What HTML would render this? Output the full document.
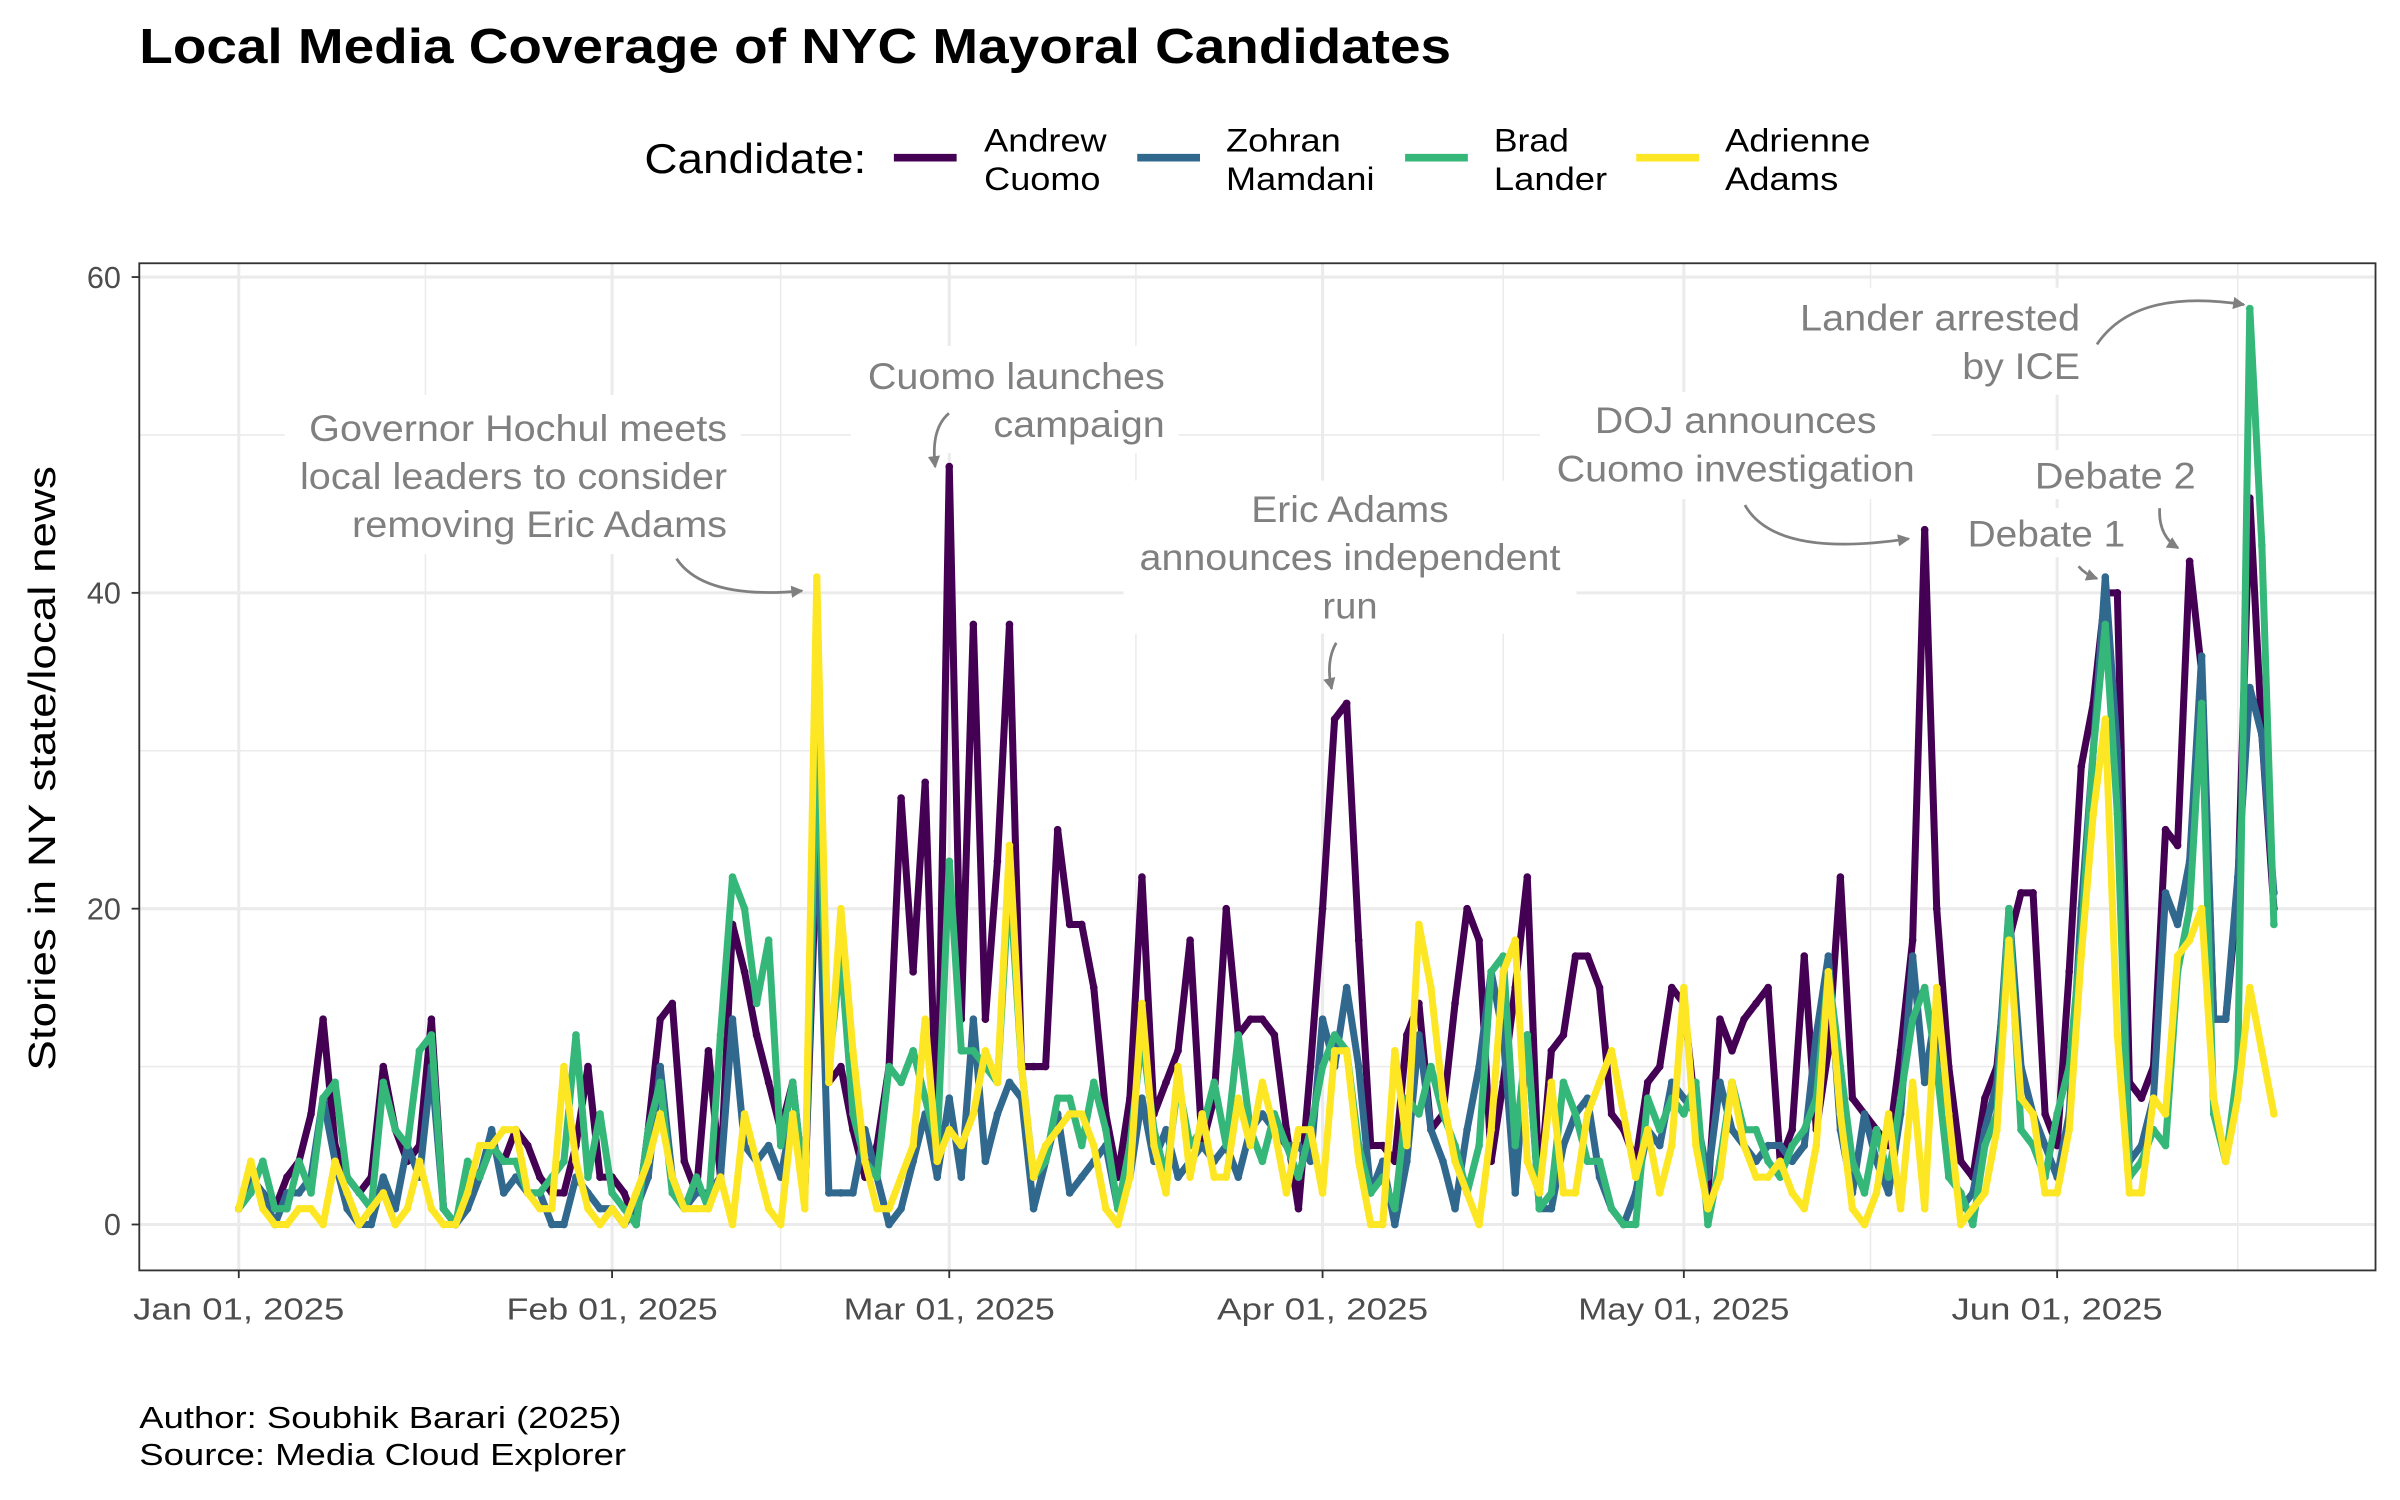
<!DOCTYPE html>
<html><head><meta charset="utf-8"><style>
html,body{margin:0;padding:0;background:#fff;}
svg{display:block;}
text{font-family:"Liberation Sans",Arial,sans-serif;}
</style></head><body>
<svg id="chart" width="2400" height="1500" viewBox="0 0 1568 980" xmlns="http://www.w3.org/2000/svg">
<rect x="0" y="0" width="1568" height="980" fill="#fff"/>
<text x="91" y="41" font-size="32" font-weight="bold" fill="#000" textLength="857" lengthAdjust="spacingAndGlyphs">Local Media Coverage of NYC Mayoral Candidates</text>
<g>
<text x="421" y="113" font-size="27" fill="#000" textLength="145" lengthAdjust="spacingAndGlyphs">Candidate:</text>
<g><line x1="584" y1="103" x2="625" y2="103" stroke="#440154" stroke-width="5"/><text x="643" y="99" font-size="21" textLength="80" lengthAdjust="spacingAndGlyphs">Andrew</text><text x="643" y="124" font-size="21" textLength="76" lengthAdjust="spacingAndGlyphs">Cuomo</text></g>
<g><line x1="743" y1="103" x2="784" y2="103" stroke="#31688e" stroke-width="5"/><text x="801" y="99" font-size="21" textLength="75" lengthAdjust="spacingAndGlyphs">Zohran</text><text x="801" y="124" font-size="21" textLength="97" lengthAdjust="spacingAndGlyphs">Mamdani</text></g>
<g><line x1="918" y1="103" x2="959" y2="103" stroke="#35b779" stroke-width="5"/><text x="976" y="99" font-size="21" textLength="49" lengthAdjust="spacingAndGlyphs">Brad</text><text x="976" y="124" font-size="21" textLength="74" lengthAdjust="spacingAndGlyphs">Lander</text></g>
<g><line x1="1069" y1="103" x2="1110" y2="103" stroke="#fde725" stroke-width="5"/><text x="1127" y="99" font-size="21" textLength="95" lengthAdjust="spacingAndGlyphs">Adrienne</text><text x="1127" y="124" font-size="21" textLength="74" lengthAdjust="spacingAndGlyphs">Adams</text></g>
</g>
<g id="grid"></g>
<g id="annot"></g>
<g id="series"></g>
<rect x="91" y="172" width="1461" height="658" fill="none" stroke="#333" stroke-width="1.2"/>
<g id="axes"></g>
<text transform="translate(36,502) rotate(-90)" text-anchor="middle" font-size="25" fill="#000" textLength="395" lengthAdjust="spacingAndGlyphs">Stories in NY state/local news</text>
<text x="91" y="933" font-size="20" fill="#000" textLength="315" lengthAdjust="spacingAndGlyphs">Author: Soubhik Barari (2025)</text>
<text x="91" y="957" font-size="20" fill="#000" textLength="318" lengthAdjust="spacingAndGlyphs">Source: Media Cloud Explorer</text>
</svg>
<script>
const cuomo = [1,3,2,1,3,4,7,13,5,3,2,3,10,6,4,5,13,1,0,2,3,5,4,6,5,3,2,2,5,10,3,
3,2,0,6,13,14,4,2,11,3,19,16,12,9,6,9,2,24,9,10,6,3,5,10,27,16,28,5,
48,13,38,13,23,38,10,10,10,25,19,19,15,7,3,8,22,7,9,11,18,5,8,20,12,13,13,12,6,1,10,
20,32,33,18,5,5,4,12,14,6,7,14,20,18,4,9,15,22,2,11,12,17,17,15,7,6,4,9,10,15,
14,7,2,13,11,13,14,15,4,6,17,6,11,22,8,7,6,5,11,18,44,20,10,4,3,8,10,18,21,21,7,
5,16,29,33,40,40,9,8,10,25,24,42,35,13,13,21,46,31,20];
const mamdani = [1,3,2,0,2,2,3,8,4,1,0,0,3,1,5,3,10,1,0,1,3,6,2,3,2,2,0,0,3,2,1,
1,0,1,3,10,3,1,2,2,3,13,5,4,5,3,7,2,27,2,2,2,6,3,0,1,4,7,3,
8,3,13,4,7,9,8,1,4,7,2,3,4,5,1,3,8,4,6,3,4,5,4,5,3,6,7,6,5,5,4,
13,10,15,10,2,4,0,4,12,6,4,1,6,10,16,12,2,12,1,1,5,7,8,3,1,0,2,6,5,9,
8,7,3,9,6,5,4,5,5,4,5,12,17,6,2,7,4,2,7,17,9,14,5,1,2,6,9,20,10,7,5,
3,7,20,30,41,30,4,5,8,21,19,23,36,13,13,22,34,31,21];
const lander = [1,2,4,1,1,4,2,8,9,3,2,1,9,6,5,11,12,1,0,4,3,5,4,4,2,2,3,4,12,3,7,
2,1,0,6,9,2,1,3,1,12,22,20,14,18,5,9,2,31,10,17,7,4,3,10,9,11,8,5,
23,11,11,10,9,22,10,3,4,8,8,5,9,6,1,5,12,6,3,9,5,6,9,5,12,6,4,7,5,3,6,
10,12,11,5,2,3,1,8,7,10,7,5,2,5,16,17,5,12,1,2,9,7,4,4,1,0,0,8,6,8,
7,9,0,4,9,6,6,4,3,5,6,8,16,10,4,2,6,3,8,13,15,10,3,2,0,5,7,20,6,5,3,
7,10,18,30,38,26,3,4,6,5,16,20,33,7,4,10,58,43,19];
const adams = [1,4,1,0,0,1,1,0,4,2,0,1,2,0,1,4,1,0,0,2,5,5,6,6,2,1,1,10,4,1,0,
1,0,2,4,7,3,1,1,1,3,0,7,4,1,0,7,1,41,9,20,11,4,1,1,3,5,13,4,
6,5,7,11,9,24,10,3,5,6,7,7,5,1,0,3,14,5,2,10,3,7,3,3,8,5,9,6,2,6,6,
2,11,11,4,0,0,11,5,19,15,8,4,2,0,6,16,18,4,2,9,2,2,7,9,11,7,3,6,2,5,
15,5,1,3,9,5,3,3,4,2,1,5,16,7,1,0,2,7,1,9,1,15,7,0,1,2,6,18,8,7,2,
2,6,17,26,32,12,2,2,8,7,17,18,20,8,4,8,15,11,7];
const seriesNames = ["cuomo","mamdani","lander","adams"];
const seriesColors = ["#440154","#31688e","#35b779","#fde725"];
const yTicks = [0,20,40,60];
const yMinor = [10,30,50];
const xTickDays = [0,31,59,90,120,151];
const xTickLabels = ["Jan 01, 2025","Feb 01, 2025","Mar 01, 2025","Apr 01, 2025","May 01, 2025","Jun 01, 2025"];

const NS="http://www.w3.org/2000/svg";
const X0=156, DX=(1344-156)/151;
function xs(d){return X0+DX*d;}
function ys(v){return 800-v*(800-181)/60;}
function mk(tag,attrs,parent){const e=document.createElementNS(NS,tag);for(const k in attrs)e.setAttribute(k,attrs[k]);parent.appendChild(e);return e;}

const grid=document.getElementById('grid');
yMinor.forEach(v=>{const l=mk('line',{x1:91,x2:1552,y1:ys(v),y2:ys(v),stroke:'#ebebeb','stroke-width':1},grid);

});
const minorDays=[];
for(let i=0;i<xTickDays.length;i++){const nxt=i+1<xTickDays.length?xTickDays[i+1]:181;minorDays.push((xTickDays[i]+nxt)/2);}
minorDays.forEach(d=>{const l=mk('line',{x1:xs(d),x2:xs(d),y1:172,y2:830,stroke:'#ebebeb','stroke-width':1},grid);

});
yTicks.forEach(v=>{const l=mk('line',{x1:91,x2:1552,y1:ys(v),y2:ys(v),stroke:'#ebebeb','stroke-width':2},grid);

});
xTickDays.forEach(d=>{const l=mk('line',{x1:xs(d),x2:xs(d),y1:172,y2:830,stroke:'#ebebeb','stroke-width':2},grid);

});

const axes=document.getElementById('axes');
yTicks.forEach(v=>{
 const t=mk('line',{x1:86,x2:91,y1:ys(v),y2:ys(v),stroke:'#333','stroke-width':1.2},axes);
 
 
 const tx=mk('text',{x:79,y:ys(v)+7,'text-anchor':'end','font-size':20,fill:'#4d4d4d'},axes);
 tx.textContent=v;
 
 
});
xTickDays.forEach((d,i)=>{
 const t=mk('line',{x1:xs(d),x2:xs(d),y1:830,y2:835,stroke:'#333','stroke-width':1.2},axes);
 
 
 const tx=mk('text',{x:xs(d),y:862,'text-anchor':'middle','font-size':20,fill:'#4d4d4d',textLength:138,lengthAdjust:'spacingAndGlyphs'},axes);
 tx.textContent=xTickLabels[i];
 
 
});

// annotations
const an=document.getElementById('annot');
function label(lines,widths,x,y0,anchor,name,box){
 const g=mk('g',{},an);
 
 
 if(box)mk('rect',{x:box[0],y:box[1],width:box[2],height:box[3],fill:'#fff'},g);
 lines.forEach((s,i)=>{const t=mk('text',{x:x,y:y0+i*31.5,'text-anchor':anchor,'font-size':24,fill:'#808080',textLength:widths[i],lengthAdjust:'spacingAndGlyphs'},g);t.textContent=s;});
}
label(["Governor Hochul meets","local leaders to consider","removing Eric Adams"],[273,279,245],475,288,'end','annotation-hochul',[186,258,298,104]);
label(["Cuomo launches","campaign"],[194,112],761,254,'end','annotation-cuomo-launch',[556,226,214,70]);
label(["Eric Adams","announces independent","run"],[129,275,36],882,341,'middle','annotation-adams-independent',[734,314,296,100]);
label(["DOJ announces","Cuomo investigation"],[184,234],1134,283,'middle','annotation-doj',[1006,256,256,70]);
label(["Lander arrested","by ICE"],[183,77],1359,216,'end','annotation-lander-ice',[1166,188,202,70]);
label(["Debate 2"],[105],1382,319,'middle','annotation-debate-2',[1324,294,118,32]);
label(["Debate 1"],[103],1337,357,'middle','annotation-debate-1',[1280,332,116,32]);
mk('defs',{},an).innerHTML='<marker id="ah" markerWidth="8" markerHeight="8" refX="7" refY="4" orient="auto" markerUnits="userSpaceOnUse"><path d="M0,0 L8,4 L0,8 z" fill="#808080"/></marker>';
const arrows=[
 ["M442,365 Q460,392 524,386","arrow-hochul"],
 ["M620,270 Q608,280 611,305","arrow-cuomo-launch"],
 ["M873,420 Q866,432 870,450","arrow-adams-independent"],
 ["M1140,330 Q1160,365 1247,352","arrow-doj"],
 ["M1370,225 Q1395,188 1466,199","arrow-lander-ice"],
 ["M1411,332 Q1410,350 1423,358","arrow-debate-2"],
 ["M1358,370 Q1362,375 1370,378","arrow-debate-1"]];
arrows.forEach(a=>{const p=mk('path',{d:a[0],fill:'none',stroke:'#808080','stroke-width':1.8,'marker-end':'url(#ah)'},an);

});

// series
const sg=document.getElementById('series');
const data=[cuomo,mamdani,lander,adams];
data.forEach((arr,si)=>{
 const d=arr.map((v,i)=>(i?'L':'M')+xs(i).toFixed(2)+','+ys(v).toFixed(2)).join(' ');
 const p=mk('path',{d:d,fill:'none',stroke:seriesColors[si],'stroke-width':4.6,'stroke-linejoin':'round','stroke-linecap':'round'},sg);
 
 
 arr.forEach((v,i)=>{
  const c=mk('circle',{cx:xs(i),cy:ys(v),r:2.5,fill:seriesColors[si]},sg);
  
  
 });
});
</script>
</body></html>
